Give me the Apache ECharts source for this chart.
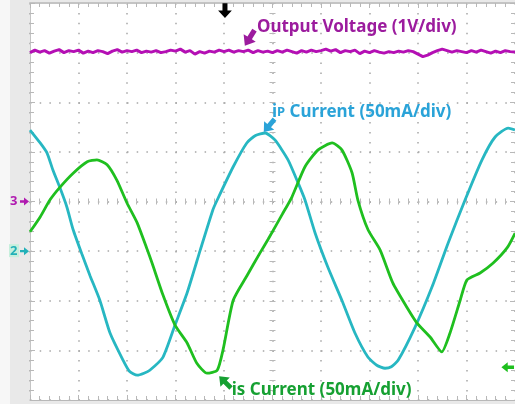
<!DOCTYPE html>
<html><head><meta charset="utf-8">
<script src="https://cdn.jsdelivr.net/npm/echarts@6/dist/echarts.min.js"></script>
<style>
html,body{margin:0;padding:0;background:#fff;}
#c{width:515px;height:404px;}
</style></head><body><div id="c"></div>
<script>
// ---- data (time in divisions from screen centre, amplitude in divisions) ----
const outTime = [-5.0,-4.9,-4.8,-4.7,-4.6,-4.5,-4.4,-4.3,-4.2,-4.1,-4.0,-3.9,-3.8,-3.7,-3.6,-3.5,-3.4,-3.3,-3.2,-3.1,
  -3.0,-2.9,-2.8,-2.7,-2.6,-2.5,-2.4,-2.3,-2.2,-2.1,-2.0,-1.9,-1.8,-1.7,-1.6,-1.5,-1.4,-1.3,-1.2,-1.1,
  -1.0,-0.9,-0.8,-0.7,-0.6,-0.5,-0.4,-0.3,-0.2,-0.1,0.0,0.1,0.2,0.3,0.4,0.5,0.6,0.7,0.8,0.9,
  1.0,1.1,1.2,1.3,1.4,1.5,1.6,1.7,1.8,1.9,2.0,2.1,2.2,2.3,2.4,2.5,2.6,2.7,2.8,2.9,
  3.0,3.1,3.2,3.3,3.4,3.5,3.6,3.7,3.8,3.9,4.0,4.1,4.2,4.3,4.4,4.5,4.6,4.7,4.8,4.9,5.0];
const outVolt = [3.00,3.05,3.01,3.04,2.99,3.03,3.06,3.00,3.04,3.02,3.05,2.99,3.03,3.00,3.04,3.02,2.98,3.03,3.06,3.01,
  3.04,3.02,3.05,3.00,3.03,3.01,3.04,3.00,3.02,3.05,3.03,3.07,3.01,3.04,2.97,3.02,2.99,3.03,3.01,3.05,
  3.02,3.05,3.01,3.04,3.02,3.05,3.00,3.04,3.01,3.03,3.00,3.04,3.01,3.05,3.02,2.99,3.04,3.01,3.05,3.02,
  3.04,3.07,3.03,3.06,3.00,3.04,3.02,3.05,2.98,3.03,3.00,3.04,3.01,2.99,3.02,3.00,3.03,3.01,3.04,3.02,
  2.97,2.92,2.95,3.00,3.04,3.07,3.04,3.01,3.04,3.02,3.00,3.04,3.01,3.05,3.02,2.99,3.03,3.00,3.04,3.02,3.01];

const ipTime = [-5.00,-4.79,-4.65,-4.53,-4.38,-4.24,-4.11,-3.93,-3.76,-3.56,-3.35,-3.08,-2.95,-2.79,-2.65,-2.53,-2.26,-2.01,-1.76,-1.49,
  -1.23,-1.14,-0.81,-0.53,-0.35,-0.15,0.05,0.32,0.53,0.67,0.88,1.14,1.43,1.70,1.97,2.15,2.32,2.45,2.59,2.94,3.29,3.62,3.97,4.32,4.59,4.86,5.00];
const ipCurrent = [1.44,1.18,0.98,0.64,0.27,-0.11,-0.57,-1.06,-1.50,-1.99,-2.65,-3.20,-3.42,-3.50,-3.46,-3.40,-3.14,-2.49,-1.84,-0.98,
  -0.17,0.03,0.70,1.18,1.33,1.38,1.24,0.84,0.37,0.03,-0.64,-1.32,-1.99,-2.65,-3.14,-3.30,-3.36,-3.33,-3.20,-2.53,-1.72,-0.84,0.03,0.84,1.30,1.48,1.44];

const isTime = [-5.00,-4.79,-4.59,-4.38,-4.11,-3.82,-3.62,-3.41,-3.21,-3.00,-2.79,-2.59,-2.48,-2.26,-2.01,-1.76,-1.56,-1.35,-1.14,-1.02,
  -0.81,-0.53,-0.26,-0.09,0.20,0.40,0.67,0.94,1.23,1.43,1.64,1.76,1.97,2.22,2.48,2.77,2.98,3.25,3.49,3.66,3.87,4.01,4.28,4.55,4.84,5.00];
const isCurrent = [-0.61,-0.31,0.03,0.29,0.57,0.80,0.84,0.74,0.43,-0.03,-0.43,-0.95,-1.25,-1.88,-2.49,-2.85,-3.26,-3.46,-3.40,-2.99,
  -1.99,-1.50,-1.04,-0.76,-0.26,0.09,0.70,1.04,1.18,1.04,0.58,0.03,-0.57,-0.98,-1.64,-2.13,-2.45,-2.73,-3.03,-2.65,-1.99,-1.58,-1.44,-1.24,-0.93,-0.64];

const labelTexts = ['Output Voltage (1V/div)', 'Current (50mA/div)'];

// ---- chart ----
const C_OUT = '#b40fb4', C_IP = '#27b7c2', C_IS = '#1fbf1f';
const T_OUT = '#9c1c9e', T_IP = '#2aa3d8', T_IS = '#16a032';
const GRID_C = '#b8b8b8', DOT_C = '#a6a6a6';
const pairs = (ts, vs) => ts.map((t, i) => [t, vs[i]]);

const chart = echarts.init(document.getElementById('c'), null, {renderer: 'canvas'});
const baseAxis = {type: 'value', min: -5, max: 5, interval: 1, axisLabel: {show: false}, splitLine: {show: false}};
const baseY = {type: 'value', min: -4, max: 4, interval: 1, axisLabel: {show: false}, splitLine: {show: false}};
const edgeTick = {show: true, inside: true, length: 5, lineStyle: {color: GRID_C, width: 1}};
const edgeMinor = {show: true, splitNumber: 5, length: 4, lineStyle: {color: GRID_C, width: 1}};
const ctrTick = (inside) => ({show: true, inside: inside, length: 3, lineStyle: {color: GRID_C, width: 1}});
const ctrMinor = {show: true, splitNumber: 5, length: 3, lineStyle: {color: GRID_C, width: 1}};

chart.setOption({
  animation: false,
  backgroundColor: '#e9e9e9',
  grid: {left: 30, top: 3, right: 0, bottom: 4, show: true, backgroundColor: '#ffffff', borderWidth: 0},
  xAxis: [
    Object.assign({}, baseAxis, {position: 'bottom', axisLine: {onZero: false, lineStyle: {color: GRID_C, width: 1}},
      axisTick: edgeTick, minorTick: edgeMinor,
      splitLine: {show: true, lineStyle: {color: DOT_C, width: 1.5, type: [1.5, 8.42]}}}),
    Object.assign({}, baseAxis, {position: 'top', axisLine: {onZero: false, lineStyle: {color: '#c4c4c4', width: 2}},
      axisTick: edgeTick, minorTick: edgeMinor}),
    Object.assign({}, baseAxis, {position: 'bottom', axisLine: {show: false, onZero: true, onZeroAxisIndex: 0},
      axisTick: ctrTick(false), minorTick: ctrMinor}),
    Object.assign({}, baseAxis, {position: 'bottom', axisLine: {show: false, onZero: true, onZeroAxisIndex: 0},
      axisTick: ctrTick(true), minorTick: ctrMinor})
  ],
  yAxis: [
    Object.assign({}, baseY, {position: 'left', axisLine: {onZero: false, lineStyle: {color: '#c4c4c4', width: 1}},
      axisTick: edgeTick, minorTick: edgeMinor,
      splitLine: {show: true, lineStyle: {color: DOT_C, width: 1.5, type: [1.5, 8.2]}}}),
    Object.assign({}, baseY, {position: 'right', axisLine: {onZero: false, lineStyle: {color: GRID_C, width: 1}},
      axisTick: edgeTick, minorTick: edgeMinor}),
    Object.assign({}, baseY, {position: 'left', axisLine: {show: false, onZero: true, onZeroAxisIndex: 0},
      axisTick: ctrTick(false), minorTick: ctrMinor}),
    Object.assign({}, baseY, {position: 'left', axisLine: {show: false, onZero: true, onZeroAxisIndex: 0},
      axisTick: ctrTick(true), minorTick: ctrMinor})
  ],
  series: [
    {type: 'line', name: 'Output Voltage', data: pairs(outTime, outVolt), showSymbol: false,
      lineStyle: {color: C_OUT, width: 3}, z: 3},
    {type: 'line', name: 'iP', data: pairs(ipTime, ipCurrent), showSymbol: false, smooth: 0.2,
      lineStyle: {color: C_IP, width: 2.8}, z: 4},
    {type: 'line', name: 'iS', data: pairs(isTime, isCurrent), showSymbol: false, smooth: 0.2,
      lineStyle: {color: C_IS, width: 2.8}, z: 5}
  ]
});

// ---- annotations positioned through the axes ----
const P = (t, v) => chart.convertToPixel({xAxisIndex: 0, yAxisIndex: 0}, [t, v]);
const arrowShape = [[0,0],[-7,-5.5],[-7,-2],[-14,-2],[-14,2],[-7,2],[-7,5.5]];
// deg: screen direction (0 = right, 90 = down)
function arrow(t, v, deg, color, sx, sy) {
  const p = P(t, v);
  return {type: 'polygon', x: p[0], y: p[1], rotation: -deg * Math.PI / 180, scaleX: sx || 1, scaleY: sy || sx || 1,
    shape: {points: arrowShape}, style: {fill: color}, z: 100};
}
const fam = '"Noto Sans", sans-serif';
function text(t, v, rich, txt, color, size) {
  const p = P(t, v);
  return {type: 'text', x: p[0], y: p[1], z: 100,
    style: {text: txt, fill: color, font: 'bold ' + size + 'px ' + fam, verticalAlign: 'middle', rich: rich}};
}
const mk = (color) => ({
  i: {fill: color, font: 'bold 17px ' + fam},
  s: {fill: color, font: 'bold 13px ' + fam},
  m: {fill: color, font: 'bold 17px ' + fam}
});
const leftEdge = P(-5, 0), left2 = P(-5, -1);
const markArrow = [[0,0],[-5,-4],[-5,-1.2],[-9,-1.2],[-9,1.2],[-5,1.2],[-5,4]];
chart.setOption({graphic: [
  {type: 'rect', shape: {x: 0, y: 0, width: 10, height: 404}, style: {fill: '#f7f7f7'}, z: 90},
  text(-0.32, 3.52, null, labelTexts[0], T_OUT, 17),
  text(-0.01, 1.80, mk(T_IP), '{i|i}{s|P} {m|' + labelTexts[1] + '}', T_IP, 17),
  text(-0.84, -3.80, mk(T_IS), '{i|i}{m|s} {m|' + labelTexts[1] + '}', T_IS, 17),
  arrow(-0.57, 3.14, 122, T_OUT, 1.3),
  arrow(-0.18, 1.40, 130, T_IP, 1.2),
  arrow(-1.10, -3.52, 225, T_IS, 1.2),
  arrow(-0.98, 3.70, 90, '#000000', 1.05, 1.25),
  arrow(4.72, -3.34, 180, C_IS, 0.9),
  {type: 'text', x: leftEdge[0] - 20, y: leftEdge[1], z: 100,
    style: {text: '3', fill: '#b01ab0', font: 'bold 13px ' + fam, verticalAlign: 'middle'}},
  {type: 'polygon', x: leftEdge[0] - 1, y: leftEdge[1], shape: {points: markArrow}, style: {fill: '#b01ab0'}, z: 100},
  {type: 'rect', x: left2[0] - 21, y: left2[1] - 7, shape: {width: 10, height: 13}, style: {fill: '#c6efdc'}, z: 99},
  {type: 'text', x: left2[0] - 20, y: left2[1], z: 100,
    style: {text: '2', fill: '#22b0b8', font: 'bold 13px ' + fam, verticalAlign: 'middle'}},
  {type: 'polygon', x: left2[0] - 1, y: left2[1], shape: {points: markArrow}, style: {fill: '#22b0b8'}, z: 100}
]});
</script></body></html>
